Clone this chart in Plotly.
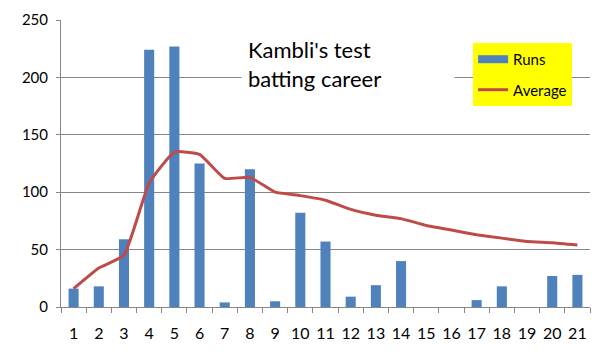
import plotly.graph_objects as go

matches = [str(i) for i in range(1, 22)]
runs = [16, 18, 59, 224, 227, 125, 4, 120, 5, 82, 57, 9, 19, 40, 0, 0, 6, 18, 0, 27, 28]
average = [16, 34, 45, 108, 135, 133, 112, 113, 100, 97, 93, 85, 80, 77, 71, 67, 63, 60, 57, 56, 54]
y_ticks = [0, 50, 100, 150, 200, 250]

BLUE = "#4F81BD"
RED = "#BE4B48"
FONT = "Lato"

fig = go.Figure()
fig.add_trace(go.Bar(x=matches, y=runs, name="Runs", marker=dict(color=BLUE, line=dict(width=0)),
                     showlegend=False))
fig.add_trace(go.Scatter(x=[None], y=[None], mode="lines", name="Runs",
                         line=dict(color=BLUE, width=8), legendgroup="a"))
fig.add_trace(go.Scatter(x=matches, y=average, mode="lines", name="Average",
                         line=dict(color=RED, width=3, shape="spline", smoothing=0.4),
                         legendgroup="b"))

# page body has an 8px default margin, so the figure is 8px smaller than the window
fig.update_layout(
    width=596, height=356,
    margin=dict(l=53, r=14, t=12, b=57, autoexpand=False),
    paper_bgcolor="white", plot_bgcolor="white",
    font=dict(family=FONT, size=15, color="black"),
    bargap=0.6,
    showlegend=True,
    legend=dict(x=0.779, y=0.92, xanchor="left", yanchor="top",
                bgcolor="#FFFF00", font=dict(size=15, family=FONT),
                tracegroupgap=8, itemwidth=30, traceorder="grouped",
                borderwidth=0),
    xaxis=dict(type="category", range=[-0.5, 20.5], showgrid=False, automargin=False,
               showline=True, linecolor="#868686", linewidth=1,
               ticks="outside", tickson="boundaries", ticklen=5, tickcolor="#868686",
               tickangle=0, tickfont=dict(size=16), ticklabelstandoff=12),
    yaxis=dict(range=[0, 250], tickvals=y_ticks, showgrid=True, gridcolor="#868686", gridwidth=1,
               showline=True, linecolor="#868686", linewidth=1, automargin=False,
               ticks="outside", ticklen=4, tickcolor="#868686",
               tickfont=dict(size=15), ticklabelstandoff=5, zeroline=False),
    annotations=[dict(text="Kambli's test<br>batting career", xref="paper", yref="paper",
                      x=0.341, y=0.845, xanchor="left", yanchor="middle",
                      showarrow=False, align="left", width=200, bgcolor="white",
                      borderpad=6, font=dict(size=22, family=FONT, color="black"))],
)

fig.write_html("out.html")
